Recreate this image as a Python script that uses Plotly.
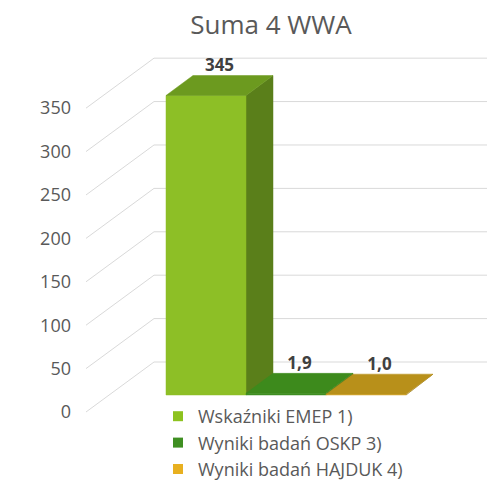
import plotly.graph_objects as go

# ---- data ----
title_text = "Suma 4 WWA"
series_names = ["Wskaźniki EMEP 1)", "Wyniki badań OSKP 3)", "Wyniki badań HAJDUK 4)"]
series_values = [345, 1.9, 1.0]
value_labels = ["345", "1,9", "1,0"]
tick_values = [0, 50, 100, 150, 200, 250, 300, 350]
tick_labels = ["0", "50", "100", "150", "200", "250", "300", "350"]

legend_colors = ["#8dc21f", "#3f8f22", "#e8b020"]
front_colors = ["#8dbf26", "#3f8f22", "#d6a31e"]
top_colors = ["#6c9a1f", "#3d8a1c", "#b8901a"]
side_colors = ["#5a7f1a", "#2f6e16", "#9a7816"]

# ---- layout geometry ----
# the page body has an 8px default margin, so the figure is 8px smaller
PAGE_OFF = 8
W, H = 495 - PAGE_OFF, 490 - PAGE_OFF
ML, MR, MT, MB = 86 - PAGE_OFF, 0, 50 - PAGE_OFF, 76
plot_h = H - MT - MB
ymin, ymax = -2.3, 417
k = plot_h / (ymax - ymin)          # px per value unit
xmin, xmax = 0, W - ML - MR

wall_dx, wall_dy = 68, 50 / k       # depth of back wall
bar_front_dy = 17 / k               # bar front plane offset
bar_dx, bar_dy = 27, 20 / k         # bar depth
bar_left0 = 80
bar_w = 80

fig = go.Figure()

# gridlines: diagonal on the side wall + horizontal on back wall
gx, gy = [], []
for v in tick_values:
    gx += [xmin, xmin + wall_dx, xmax, None]
    gy += [v, v + wall_dy, v + wall_dy, None]
fig.add_trace(go.Scatter(x=gx, y=gy, mode="lines",
                         line=dict(color="#d9d9d9", width=1),
                         hoverinfo="skip", showlegend=False))

# 3D bars
lx, ly, lt = [], [], []
for i, (v, lab) in enumerate(zip(series_values, value_labels)):
    L = bar_left0 + i * bar_w
    R = L + bar_w
    f = bar_front_dy
    b = bar_front_dy + bar_dy
    # side face
    fig.add_trace(go.Scatter(x=[R, R + bar_dx, R + bar_dx, R, R],
                             y=[f, b, v + b, v + f, f],
                             fill="toself", fillcolor=side_colors[i], mode="lines",
                             line=dict(color=side_colors[i], width=0.5),
                             hoverinfo="skip", showlegend=False))
    # front face
    fig.add_trace(go.Scatter(x=[L, R, R, L, L],
                             y=[f, f, v + f, v + f, f],
                             fill="toself", fillcolor=front_colors[i], mode="lines",
                             line=dict(color=front_colors[i], width=0.5),
                             hoverinfo="skip", showlegend=False))
    # top face
    fig.add_trace(go.Scatter(x=[L, R, R + bar_dx, L + bar_dx, L],
                             y=[v + f, v + f, v + b, v + b, v + f],
                             fill="toself", fillcolor=top_colors[i], mode="lines",
                             line=dict(color=top_colors[i], width=0.5),
                             hoverinfo="skip", showlegend=False))
    lx.append((L + R) / 2 + bar_dx / 2)
    ly.append(v + b)
    lt.append(lab)

fig.add_trace(go.Scatter(x=lx, y=ly, text=lt, mode="text", textposition="top center",
                         textfont=dict(family="Open Sans", size=17, color="#404040",
                                       weight="bold"),
                         hoverinfo="skip", showlegend=False))

# legend entries
for name, c in zip(series_names, legend_colors):
    fig.add_trace(go.Scatter(x=[None], y=[None], mode="markers", name=name,
                             marker=dict(symbol="square", size=10, color=c)))

fig.update_layout(
    width=W, height=H,
    margin=dict(l=ML, r=MR, t=MT, b=MB, autoexpand=False),
    paper_bgcolor="white", plot_bgcolor="white",
    title=dict(text=title_text, x=(271 - PAGE_OFF) / W, xanchor="center", xref="container",
               y=1 - 8 / H, yanchor="top", yref="container", pad=dict(t=0),
               font=dict(family="Open Sans", size=26, color="#595959")),
    xaxis=dict(range=[xmin, xmax], visible=False, fixedrange=True),
    yaxis=dict(range=[ymin, ymax], tickvals=tick_values, ticktext=tick_labels,
               showgrid=False, zeroline=False, showline=False, ticks="",
               ticklabelstandoff=14, automargin=False,
               tickfont=dict(family="Open Sans", size=18, color="#595959"),
               fixedrange=True),
    legend=dict(x=(158 - 86) / (W - ML - MR), xanchor="left",
                y=(plot_h - (398 - 50)) / plot_h, yanchor="top",
                font=dict(family="Open Sans", size=18, color="#595959"),
                bgcolor="rgba(0,0,0,0)", tracegroupgap=0),
    showlegend=True,
)

fig.write_html("out.html")
